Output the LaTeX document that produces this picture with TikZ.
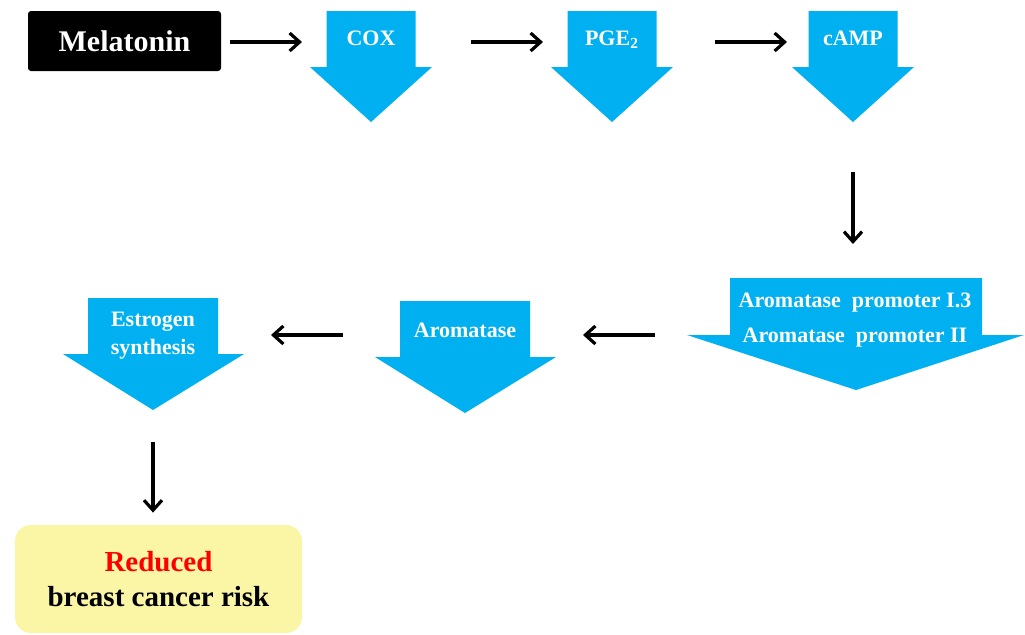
\documentclass[tikz,border=0pt]{standalone}
\usepackage{fontspec}
\setmainfont{Liberation Serif}
\usetikzlibrary{arrows.meta}
\definecolor{flowblue}{HTML}{00B0F0}
\definecolor{paleyellow}{HTML}{FAF6A6}
\begin{document}
\begin{tikzpicture}[x=0.5pt, y=-0.5pt,
    every node/.style={align=center, font=\bfseries},
    flow/.style={-{Straight Barb[length=5pt,width=9pt]}, line width=1.6pt},
    blocklabel/.style={text=white, anchor=base, inner sep=0pt, font=\bfseries\fontsize{11}{13}\selectfont}]
    \useasboundingbox (0,0) rectangle (1025,634);

    % top row
    \node[fill=black, text=white, rounded corners=1.5pt, minimum width=96.5pt, minimum height=30pt,
          font=\bfseries\fontsize{15}{18}\selectfont] (mel) at (124.5,41) {Melatonin};

    \fill[flowblue] (326.5,11) -- (415.5,11) -- (415.5,67) -- (432,67) -- (371,122) -- (310,67) -- (326.5,67) -- cycle;
    \fill[flowblue] (567.5,11) -- (656.5,11) -- (656.5,67) -- (673,67) -- (612,122) -- (551,67) -- (567.5,67) -- cycle;
    \fill[flowblue] (808.5,11) -- (897.5,11) -- (897.5,67) -- (914,67) -- (853,122) -- (792,67) -- (808.5,67) -- cycle;

    \node[blocklabel] (cox) at (371,45) {COX};
    \node[blocklabel] (pge) at (612,45) {PGE\textsubscript{2}};
    \node[blocklabel] (camp) at (853,45) {cAMP};

    % middle row
    \fill[flowblue] (730,278) -- (982,278) -- (982,335) -- (1024,335) -- (856,390) -- (687,335) -- (730,335) -- cycle;
    \fill[flowblue] (400,301) -- (530,301) -- (530,357) -- (556,357) -- (465,413) -- (375,357) -- (400,357) -- cycle;
    \fill[flowblue] (88,298) -- (218,298) -- (218,354) -- (244,354) -- (153,410) -- (63,354) -- (88,354) -- cycle;

    \node[blocklabel] (prom1) at (855,307) {Aromatase\ \ promoter\ I.3};
    \node[blocklabel] (prom2) at (855,342) {Aromatase\ \ promoter\ II};
    \node[blocklabel] (arom) at (465,337) {Aromatase};
    \node[blocklabel] (estr1) at (153,326) {Estrogen};
    \node[blocklabel] (estr2) at (153,354) {synthesis};

    % outcome
    \node[fill=paleyellow, rounded corners=8pt, minimum width=143.5pt, minimum height=54pt,
          font=\bfseries\fontsize{14.5}{17.5}\selectfont] (risk) at (158.5,579)
          {\textcolor{red}{Reduced}\\breast cancer risk};

    % connectors
    \coordinate (coxin) at (302,42);
    \coordinate (coxout) at (471,42);
    \coordinate (pgein) at (543,42);
    \coordinate (pgeout) at (715,42);
    \coordinate (campin) at (787,42);
    \coordinate (campout) at (853,172);
    \coordinate (promin) at (853,244);
    \coordinate (promout) at (655,335);
    \coordinate (aromin) at (583,335);
    \coordinate (aromout) at (343,335);
    \coordinate (estrin) at (271,335);
    \coordinate (estrout) at (153,442);

    \draw[flow, shorten <=4.5pt] (mel.east |- coxin) -- (coxin);
    \draw[flow] (coxout) -- (pgein);
    \draw[flow] (pgeout) -- (campin);
    \draw[flow] (campout) -- (promin);
    \draw[flow] (promout) -- (aromin);
    \draw[flow] (aromout) -- (estrin);
    \draw[flow, shorten >=6pt] (estrout) -- (estrout |- risk.north);
\end{tikzpicture}
\end{document}
